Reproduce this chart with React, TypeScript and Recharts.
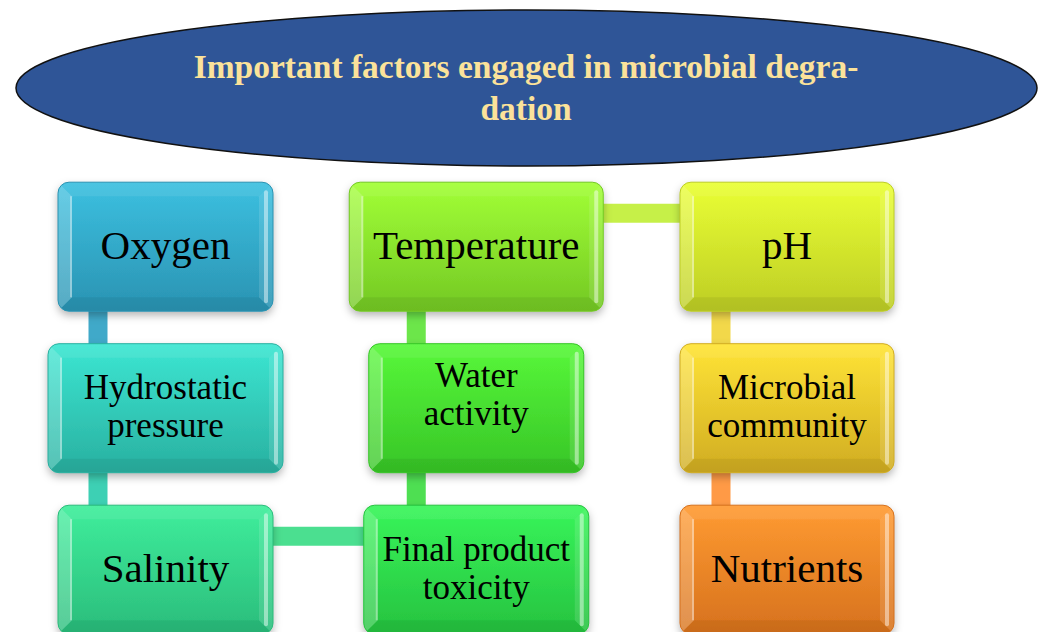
import React from 'react';
import { ScatterChart, Scatter, XAxis, YAxis } from 'recharts';

// factors, in the order the connector chain walks through them
const factorLabels = [
  ['Oxygen'],
  ['Hydrostatic', 'pressure'],
  ['Salinity'],
  ['Final product', 'toxicity'],
  ['Water', 'activity'],
  ['Temperature'],
  ['pH'],
  ['Microbial', 'community'],
  ['Nutrients'],
];
const factorColumn = [0, 0, 0, 1, 1, 1, 2, 2, 2];
const factorRow = [0, 1, 2, 2, 1, 0, 0, 1, 2];
const titleLines = ['Important factors engaged in microbial degra-', 'dation'];

// styling
const boxWidth = [215, 235, 215, 225, 215, 254, 214, 214, 214];
const boxHeight = 129;
const boxTop = ['#3CC0E0', '#3CE6D2', '#3FEE9C', '#38F55A', '#58F83A', '#A2FF36', '#EAFF34', '#FFE436', '#FF9B32'];
const boxBottom = ['#2A93B2', '#29B0A0', '#2ABC7B', '#26C23F', '#37C527', '#73C824', '#BDCD25', '#D0AC22', '#D6711D'];
const linkColors = ['#40A9C9', '#3DD0B4', '#4BDF90', '#4EDF52', '#6CE64A', '#C6F048', '#F2D84A', '#FF9A46'];
const labelShift = [0, 0, 0, 0, -12, 0, 0, 0, 0];

const W = 1043;
const H = 632;
const COL_PX = 310.75;
const ROW_PX = 161.5;
const X_DOMAIN: [number, number] = [-165.5 / COL_PX, -165.5 / COL_PX + W / COL_PX];
const Y_DOMAIN: [number, number] = [-246.7 / ROW_PX, -246.7 / ROW_PX + H / ROW_PX];
const linkColOffset = [-67.5, -60, -66];
const linkRowOffset = -33.5;

const boxData = factorLabels.map((lines, i) => ({
  index: i,
  lines,
  x: factorColumn[i],
  y: factorRow[i],
}));

const linkData = linkColors.map((_, i) => {
  const a = i;
  const b = i + 1;
  if (factorColumn[a] === factorColumn[b]) {
    const x = factorColumn[a] + linkColOffset[factorColumn[a]] / COL_PX;
    return [{ x, y: factorRow[a] }, { x, y: factorRow[b] }];
  }
  const y = factorRow[a] + linkRowOffset / ROW_PX;
  return [{ x: factorColumn[a], y }, { x: factorColumn[b], y }];
});

const FONT = '"Liberation Serif", "Times New Roman", serif';

const FactorBox = (props: any) => {
  const { cx, cy, payload } = props;
  const i = payload.index;
  const w = boxWidth[i];
  const h = boxHeight;
  const x0 = cx - w / 2;
  const y0 = cy - h / 2;
  const x1 = x0 + w;
  const y1 = y0 + h;
  const b = 14;
  const lines: string[] = payload.lines;
  const big = lines.length === 1;
  const fs = big ? 41 : 35;
  const gid = `grad-${i}`;
  const cid = `clip-${i}`;
  const fid = `shadow-${i}`;
  const baseY = big ? [cy + 12] : [cy - 9, cy + 29];
  return (
    <g>
      <defs>
        <linearGradient id={gid} x1="0" y1="0" x2="0" y2="1">
          <stop offset="0%" stopColor={boxTop[i]} />
          <stop offset="100%" stopColor={boxBottom[i]} />
        </linearGradient>
        <clipPath id={cid}>
          <rect x={x0} y={y0} width={w} height={h} rx={11} />
        </clipPath>
        <filter id={fid} x="-10%" y="-10%" width="120%" height="130%">
          <feDropShadow dx="0" dy="4" stdDeviation="4" floodColor="#000" floodOpacity="0.3" />
        </filter>
      </defs>
      <rect x={x0} y={y0} width={w} height={h} rx={11} fill={`url(#${gid})`} filter={`url(#${fid})`} />
      <g clipPath={`url(#${cid})`}>
        <polygon points={`${x0},${y0} ${x1},${y0} ${x1 - b},${y0 + b} ${x0 + b},${y0 + b}`} fill="#fff" opacity={0.08} />
        <polygon points={`${x0},${y0} ${x0 + b},${y0 + b} ${x0 + b},${y1 - b} ${x0},${y1}`} fill="#fff" opacity={0.22} />
        <polygon points={`${x1},${y0} ${x1},${y1} ${x1 - b},${y1 - b} ${x1 - b},${y0 + b}`} fill="#fff" opacity={0.12} />
        <polygon points={`${x0},${y1} ${x0 + b},${y1 - b} ${x1 - b},${y1 - b} ${x1},${y1}`} fill="#000" opacity={0.06} />
        <rect x={x1 - 9} y={y0 + 8} width={4} height={h - 16} rx={2} fill="#fff" opacity={0.45} />
        <rect x={x0 + b - 2} y={y0 + b} width={2} height={h - 2 * b} fill="#fff" opacity={0.35} />
      </g>
      <rect x={x0} y={y0} width={w} height={h} rx={11} fill="none" stroke={boxBottom[i]} strokeWidth={1} />
      {lines.map((t, k) => (
        <text
          key={k}
          x={cx}
          y={baseY[k] + labelShift[i]}
          textAnchor="middle"
          fontFamily={FONT}
          fontSize={fs}
          fill="#000"
        >
          {t}
        </text>
      ))}
    </g>
  );
};

const Title = () => (
  <svg width={W} height={180} style={{ position: 'absolute', left: 0, top: 0 }}>
    <ellipse cx={526.5} cy={88} rx={510.5} ry={78} fill="#2F5597" stroke="#111" strokeWidth={1.5} />
    {titleLines.map((t, k) => (
      <text
        key={k}
        x={526}
        y={78 + k * 42}
        textAnchor="middle"
        fontFamily={FONT}
        fontWeight="bold"
        fontSize={33.5}
        fill="#FBE29A"
      >
        {t}
      </text>
    ))}
  </svg>
);

export default function App() {
  return (
    <div style={{ position: 'fixed', left: 0, top: 0, width: W, height: H, background: '#fff', overflow: 'hidden' }}>
      <ScatterChart width={W} height={H} margin={{ top: 0, right: 0, bottom: 0, left: 0 }}>
        <XAxis type="number" dataKey="x" domain={X_DOMAIN} allowDataOverflow hide />
        <YAxis type="number" dataKey="y" domain={Y_DOMAIN} allowDataOverflow reversed hide />
        {linkData.map((pts, i) => (
          <Scatter
            key={`link-${i}`}
            data={pts}
            fill={linkColors[i]}
            line={{ stroke: linkColors[i], strokeWidth: 19 }}
            shape={() => <g />}
            isAnimationActive={false}
          />
        ))}
        <Scatter data={boxData} shape={FactorBox} isAnimationActive={false} />
      </ScatterChart>
      <Title />
    </div>
  );
}
